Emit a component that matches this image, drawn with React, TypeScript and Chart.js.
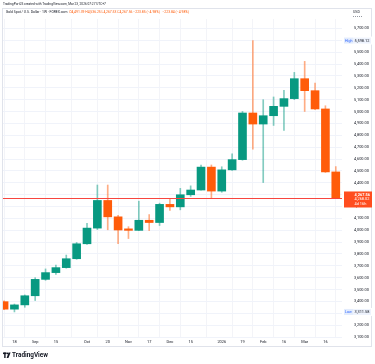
import React, { useEffect, useRef } from "react";
import { Chart, registerables } from "chart.js";
Chart.register(...registerables);

const weeks = [
  "2025-08-11", "2025-08-18", "2025-08-25", "2025-09-01", "2025-09-08", "2025-09-15",
  "2025-09-22", "2025-09-29", "2025-10-06", "2025-10-13", "2025-10-20", "2025-10-27",
  "2025-11-03", "2025-11-10", "2025-11-17", "2025-11-24", "2025-12-01", "2025-12-08",
  "2025-12-15", "2025-12-22", "2025-12-29", "2026-01-05", "2026-01-12", "2026-01-19",
  "2026-01-26", "2026-02-02", "2026-02-09", "2026-02-16", "2026-02-23", "2026-03-02",
  "2026-03-09", "2026-03-16", "2026-03-23",
];
const opens = [
  3398, 3335, 3371, 3448, 3586, 3643, 3685, 3760, 3886, 4018, 4251, 4113, 4002, 3999, 4084, 4065,
  4218, 4197, 4299, 4339, 4532, 4330, 4509, 4595, 4988, 4895, 4965, 5044, 5109, 5277, 5176, 5022, 4491.39,
];
const highs = [
  3405, 3378, 3455, 3600, 3674, 3707, 3791, 3897, 4059, 4381, 4381, 4125, 4030, 4245, 4132, 4228,
  4264, 4353, 4374, 4550, 4550, 4535, 4644, 5001, 5598.12, 5100, 5123, 5179, 5330, 5423, 5241, 5049, 4536.25,
];
const lows = [
  3331, 3311.58, 3351, 3408, 3578, 3628, 3680, 3755, 3880, 4006, 4004, 3886, 3930, 3997, 3997, 4040,
  4166, 4172, 4285, 4337, 4274, 4320, 4505, 4590, 4684, 4402, 4883, 4841, 5100, 5001, 5016, 4487, 4267.53,
];
const closes = [
  3335, 3371, 3448, 3586, 3643, 3685, 3760, 3886, 4018, 4251, 4113, 4002, 3999, 4084, 4065, 4218,
  4197, 4299, 4339, 4532, 4330, 4509, 4595, 4988, 4895, 4965, 5044, 5109, 5277, 5176, 5022, 4491.41, 4267.56,
];
const tickIndex = [1, 3, 5, 8, 10, 12, 14, 16, 18, 21, 23, 25, 27, 29, 31];
const tickText = ["18", "Sep", "15", "Oct", "20", "Nov", "17", "Dec", "15", "2026", "19", "Feb", "16", "Mar", "16"];
const priceTicks = [
  3100, 3200, 3300, 3400, 3500, 3600, 3700, 3800, 3900, 4000, 4100, 4200, 4300, 4400,
  4500, 4600, 4700, 4800, 4900, 5000, 5100, 5200, 5300, 5400, 5500, 5600, 5700,
];

const UP = "#089981";
const DOWN = "#FF5C0A";
const UP_WICK = "rgba(8,153,129,0.5)";
const DOWN_WICK = "rgba(255,92,10,0.5)";
const FONT = "Roboto, 'Liberation Sans', sans-serif";

const fmt = (v: number) =>
  v.toLocaleString("en-US", { minimumFractionDigits: 2, maximumFractionDigits: 2 });

const overlay = {
  id: "overlay",
  afterDatasetsDraw(chart: any) {
    const ctx = chart.ctx;
    const { left, right } = chart.chartArea;
    const y = chart.scales.y.getPixelForValue(closes[closes.length - 1]);
    ctx.save();
    ctx.strokeStyle = "#F7453F";
    ctx.lineWidth = 1;
    ctx.beginPath();
    ctx.moveTo(left, Math.round(y) + 0.5);
    ctx.lineTo(right, Math.round(y) + 0.5);
    ctx.stroke();
    ctx.restore();
  },
  afterDraw(chart: any) {
    const ctx = chart.ctx;
    const ys = chart.scales.y;
    const { right } = chart.chartArea;
    ctx.save();
    // frame
    ctx.strokeStyle = "#e0e3eb";
    ctx.lineWidth = 1;
    ctx.strokeRect(2.5, 8.5, 369, 338);

    // header lines
    ctx.textBaseline = "middle";
    ctx.textAlign = "left";
    ctx.fillStyle = "#131722";
    ctx.font = `3.2px ${FONT}`;
    ctx.fillText("TradingPort25 created with TradingView.com, Mar 23, 2026 07:27 UTC+7", 3, 4);
    ctx.font = `3.4px ${FONT}`;
    const title = "Gold Spot / U.S. Dollar · 1W · FOREX.com  ";
    ctx.fillText(title, 6, 12.5);
    const tw = ctx.measureText(title).width;
    ctx.fillStyle = DOWN;
    const last = closes.length - 1;
    const ch = closes[last] - closes[last - 1];
    const pct = (ch / closes[last - 1]) * 100;
    ctx.fillText(
      `O${fmt(opens[last])} H${fmt(highs[last])} L${fmt(lows[last])} C${fmt(closes[last])} −${fmt(-ch)} (−${(-pct).toFixed(2)}%)   −${fmt(-ch - 0.01)} (−${(-pct).toFixed(2)}%)`,
      6 + tw,
      12.5
    );

    // USD
    ctx.fillStyle = "#131722";
    ctx.font = `3.6px ${FONT}`;
    ctx.fillText("USD", 353, 12.5);
    ctx.strokeStyle = "#9598a1";
    ctx.setLineDash([1, 1]);
    ctx.beginPath();
    ctx.moveTo(353, 16.5);
    ctx.lineTo(362, 16.5);
    ctx.stroke();
    ctx.setLineDash([]);

    // High / Low tags
    const hi = Math.max(...highs);
    const lo = Math.min(...lows);
    const tag = (val: number, name: string) => {
      const yy = ys.getPixelForValue(val);
      ctx.fillStyle = "#ffffff";
      ctx.fillRect(right + 1, yy - 4, 30, 8);
      ctx.fillStyle = "#e3ecfd";
      ctx.fillRect(right + 2, yy - 3, 9, 6);
      ctx.fillStyle = "#eef3fd";
      ctx.fillRect(right + 11, yy - 3, 18, 6);
      ctx.font = `3.6px ${FONT}`;
      ctx.fillStyle = "#2962ff";
      ctx.fillText(name, right + 3, yy + 0.3);
      ctx.fillStyle = "#131722";
      ctx.font = `3.9px ${FONT}`;
      ctx.fillText(fmt(val), right + 12.5, yy + 0.3);
    };
    tag(hi, "High");
    tag(lo, "Low");

    // last price box
    const yc = ys.getPixelForValue(closes[last]);
    ctx.fillStyle = "#FF4D1F";
    ctx.fillRect(right + 2, yc - 7, 28, 16);
    ctx.fillStyle = "#ffffff";
    ctx.font = `bold 3.9px ${FONT}`;
    ctx.fillText(fmt(closes[last]), right + 12.5, yc - 3.7);
    ctx.font = `3.9px ${FONT}`;
    ctx.fillText(fmt(closes[last] + 0.46), right + 12.5, yc + 0.8);
    ctx.fillText("4d 16h", right + 12.5, yc + 5.3);

    // TradingView logo
    ctx.fillStyle = "#131722";
    ctx.fillRect(3, 352.5, 3.6, 1.6);
    ctx.fillRect(4.2, 352.5, 1.4, 5.5);
    ctx.beginPath();
    ctx.arc(7.6, 353.3, 0.9, 0, Math.PI * 2);
    ctx.fill();
    ctx.beginPath();
    ctx.moveTo(8.6, 352.5);
    ctx.lineTo(10.6, 352.5);
    ctx.lineTo(8.4, 358);
    ctx.lineTo(6.6, 358);
    ctx.closePath();
    ctx.fill();
    ctx.font = `bold 6.4px ${FONT}`;
    ctx.fillText("TradingView", 12, 355.5);
    ctx.restore();
  },
};

export default function App() {
  const ref = useRef<HTMLCanvasElement>(null);
  useEffect(() => {
    if (!ref.current) return;
    const up = opens.map((o, i) => closes[i] >= o);
    const chart = new Chart(ref.current, {
      type: "bar",
      data: {
        labels: weeks,
        datasets: [
          {
            label: "body",
            data: weeks.map((_, i) => ({ x: i, y: [opens[i], closes[i]] })) as any,
            backgroundColor: up.map((u) => (u ? UP : DOWN)),
            borderWidth: 0,
            barThickness: 8,
            minBarLength: 1.5,
            grouped: false,
            order: 0,
          },
          {
            label: "wick",
            data: weeks.map((_, i) => ({ x: i, y: [lows[i], highs[i]] })) as any,
            backgroundColor: up.map((u) => (u ? UP_WICK : DOWN_WICK)),
            borderWidth: 0,
            barThickness: 1,
            grouped: false,
            order: 1,
          },
        ],
      },
      options: {
        animation: false,
        responsive: false,
        devicePixelRatio: 1,
        layout: { padding: { top: 19, left: 2, right: 0, bottom: 18 } },
        plugins: { legend: { display: false }, tooltip: { enabled: false } },
        scales: {
          x: {
            type: "linear",
            min: -0.2,
            max: 32.6,
            offset: false,
            afterBuildTicks: (s: any) => {
              s.ticks = tickIndex.map((v) => ({ value: v }));
            },
            afterFit: (s: any) => {
              s.height = 8;
            },
            ticks: {
              autoSkip: false,
              maxRotation: 0,
              padding: 2,
              color: "#131722",
              font: { size: 3.9, family: FONT },
              callback: (v: any) => {
                const k = tickIndex.indexOf(Number(v));
                return k >= 0 ? tickText[k] : "";
              },
            },
            grid: { color: "#f3f4f8", drawTicks: false },
            border: { display: false },
          },
          y: {
            position: "right",
            min: 3092,
            max: 5780,
            afterBuildTicks: (s: any) => {
              s.ticks = priceTicks.map((v) => ({ value: v }));
            },
            afterFit: (s: any) => {
              s.width = 33;
            },
            ticks: {
              padding: 12,
              color: "#131722",
              font: { size: 3.9, family: FONT },
              callback: (v: any) => fmt(Number(v)),
            },
            grid: { color: "#f0f3fa", drawTicks: false },
            border: { display: false },
          },
        },
      },
      plugins: [overlay],
    } as any);
    return () => chart.destroy();
  }, []);
  return (
    <div style={{ position: "fixed", left: 0, top: 0, width: 375, height: 364, background: "#fff" }}>
      <canvas ref={ref} width={375} height={364} style={{ display: "block" }} />
    </div>
  );
}
